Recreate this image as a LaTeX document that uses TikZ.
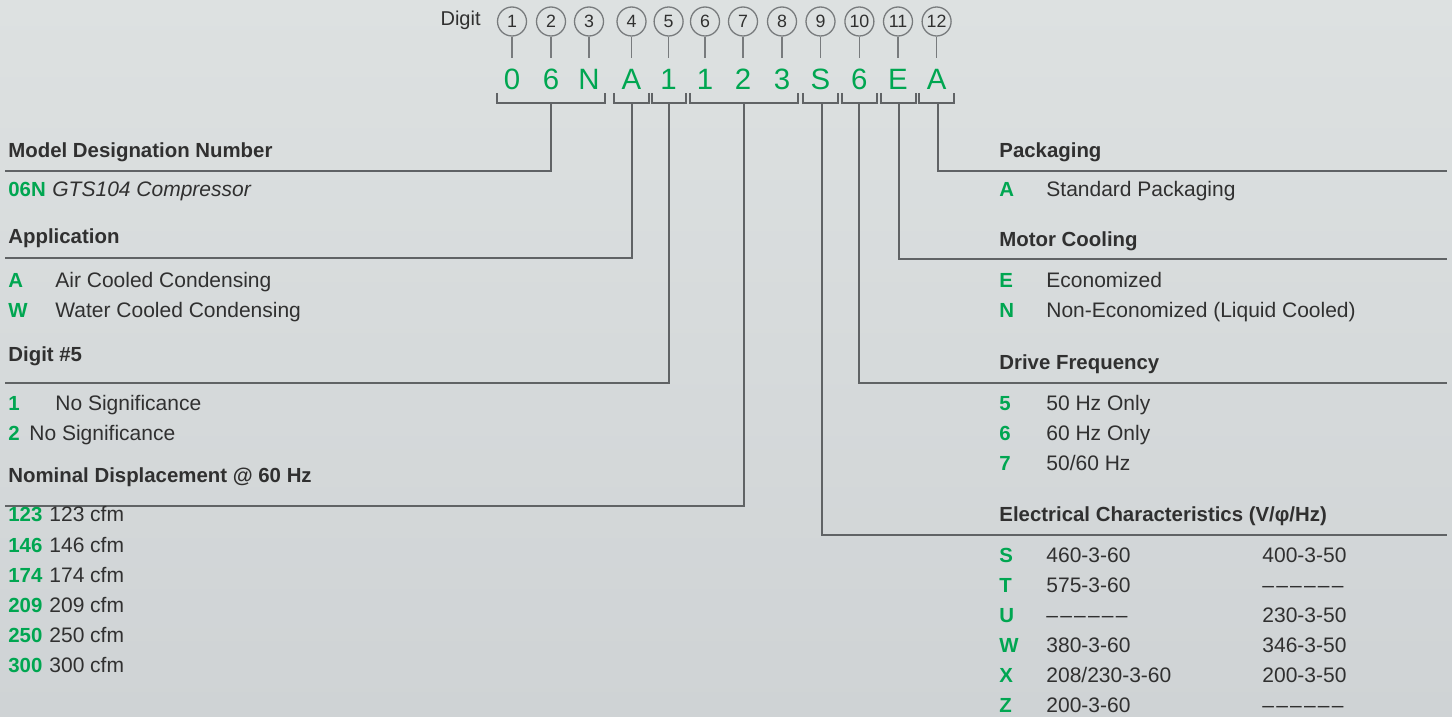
\documentclass[tikz,border=0pt]{standalone}
\usepackage{fontspec}
\setmainfont{Liberation Sans}
\definecolor{grn}{RGB}{0,166,81}
\definecolor{txt}{RGB}{48,48,48}
\definecolor{ln}{RGB}{96,99,101}
\definecolor{circ}{RGB}{120,123,125}
\definecolor{bgtop}{RGB}{221,225,225}
\definecolor{bgbot}{RGB}{207,211,213}
\newcommand\dashrun{\textendash\kern1.1pt\textendash\kern1.1pt\textendash\kern1.1pt\textendash\kern1.1pt\textendash\kern1.1pt\textendash}
\begin{document}
\begin{tikzpicture}[x=0.5pt,y=-0.5pt,
  rule/.style={draw=ln,line width=1pt},
  tickln/.style={draw=circ,line width=0.65pt},
  txtn/.style={anchor=base west,inner sep=0pt,text=txt,font=\fontsize{10.5}{12}\selectfont},
  head/.style={anchor=base west,inner sep=0pt,text=txt,font=\fontsize{10.2}{12}\selectfont\bfseries},
  key/.style={anchor=base west,inner sep=0pt,text=grn,font=\fontsize{10.2}{12}\selectfont\bfseries},
  digitc/.style={circle,draw=circ,line width=0.65pt,minimum size=14.5pt,inner sep=0pt,text=txt,font=\fontsize{8.9}{9}\selectfont},
  bigl/.style={anchor=base,inner sep=0pt,text=grn,font=\fontsize{14.7}{16}\selectfont}]
\shade[top color=bgtop,bottom color=bgbot] (0,0) rectangle (1452,717);
\useasboundingbox (0,0) rectangle (1452,717);

% top row
\node[anchor=base east,inner sep=0pt,text=txt,font=\fontsize{10}{12}\selectfont] (digitlbl) at (481,26) {Digit};
\foreach \i/\x/\ch in {1/512/0,2/551/6,3/589/N,4/631.5/A,5/668.6/1,6/705/1,7/743/2,8/782/3,9/820.5/S,10/859.4/6,11/898/E,12/936.6/A}{
  \node[digitc] (c\i) at (\x,21.5) {\i};
  \coordinate (t\i) at (\x,58);
  \draw[tickln] (c\i) -- (t\i);
  \node[bigl] (d\i) at (\x,89.3) {\ch};
}

% brackets
\foreach \n/\l/\r/\s in {g1/497/605/551,g2/614/649/632,g3/652/686/669,g4/690/798/744,g5/803/838/822,g6/842/877/859,g7/881/916/899,g8/919/954/938}{
  \draw[rule] (\l,93) -- (\l,103) -- (\r,103) -- (\r,93);
  \coordinate (\n) at (\s,103);
}

% leader lines
\coordinate (e1) at (5,171);
\coordinate (e2) at (5,258);
\coordinate (e3) at (5,383);
\coordinate (e4) at (5,506);
\coordinate (e5) at (1447,535);
\coordinate (e6) at (1447,383);
\coordinate (e7) at (1447,259);
\coordinate (e8) at (1447,171);
\draw[rule] (g1) |- (e1);
\draw[rule] (g2) |- (e2);
\draw[rule] (g3) |- (e3);
\draw[rule] (g4) |- (e4);
\draw[rule] (g5) |- (e5);
\draw[rule] (g6) |- (e6);
\draw[rule] (g7) |- (e7);
\draw[rule] (g8) |- (e8);

% left column
\node[head] (hmodel) at (8,157) {Model Designation Number};
\node[key] (k06n) at (8,197) {06N};
\node[txtn] (v06n) at (52,197) {\itshape GTS104 Compressor};

\node[head] (happ) at (8,243) {Application};
\node[key] (kA) at (8,287.7) {A};
\node[txtn] (vA) at (55,287.7) {Air Cooled Condensing};
\node[key] (kW) at (8,317.7) {W};
\node[txtn] (vW) at (55,317.7) {Water Cooled Condensing};

\node[head] (hd5) at (8,361) {Digit \#5};
\node[key] (k1) at (8,410) {1};
\node[txtn] (v1) at (55,410) {No Significance};
\node[key] (k2) at (8,440) {2};
\node[txtn] (v2) at (29,440) {No Significance};

\node[head] (hnom) at (8,482) {Nominal Displacement @ 60 Hz};
\foreach \v/\yy in {123/521.7,146/552,174/582,209/612,250/642,300/672}{
  \node[key] (k\v) at (8,\yy) {\v};
  \node[txtn] (v\v) at (49,\yy) {\v\ cfm};
}

% right column
\node[head] (hpack) at (999,157) {Packaging};
\node[key] (kpA) at (999,197) {A};
\node[txtn] (vpA) at (1046,197) {Standard Packaging};

\node[head] (hmot) at (999,247) {Motor Cooling};
\node[key] (kE) at (999,287.7) {E};
\node[txtn] (vE) at (1046,287.7) {Economized};
\node[key] (kN) at (999,317.7) {N};
\node[txtn] (vN) at (1046,317.7) {Non-Economized (Liquid Cooled)};

\node[head] (hdrv) at (999,369) {Drive Frequency};
\node[key] (k5) at (999,410) {5};
\node[txtn] (v5) at (1046,410) {50 Hz Only};
\node[key] (k6) at (999,440) {6};
\node[txtn] (v6) at (1046,440) {60 Hz Only};
\node[key] (k7) at (999,470) {7};
\node[txtn] (v7) at (1046,470) {50/60 Hz};

\node[head] (helec) at (999,521.7) {Electrical Characteristics (V/φ/Hz)};
\node[key] (kS) at (999,562.7) {S};
\node[txtn] (vS1) at (1046,562.7) {460-3-60};
\node[txtn] (vS2) at (1262,562.7) {400-3-50};
\node[key] (kT) at (999,592.7) {T};
\node[txtn] (vT1) at (1046,592.7) {575-3-60};
\node[txtn] (vT2) at (1262,592.7) {\dashrun};
\node[key] (kU) at (999,622.7) {U};
\node[txtn] (vU1) at (1046,622.7) {\dashrun};
\node[txtn] (vU2) at (1262,622.7) {230-3-50};
\node[key] (kW2) at (999,652.7) {W};
\node[txtn] (vW1) at (1046,652.7) {380-3-60};
\node[txtn] (vW2) at (1262,652.7) {346-3-50};
\node[key] (kX) at (999,682.7) {X};
\node[txtn] (vX1) at (1046,682.7) {208/230-3-60};
\node[txtn] (vX2) at (1262,682.7) {200-3-50};
\node[key] (kZ) at (999,712.7) {Z};
\node[txtn] (vZ1) at (1046,712.7) {200-3-60};
\node[txtn] (vZ2) at (1262,712.7) {\dashrun};
\end{tikzpicture}
\end{document}
